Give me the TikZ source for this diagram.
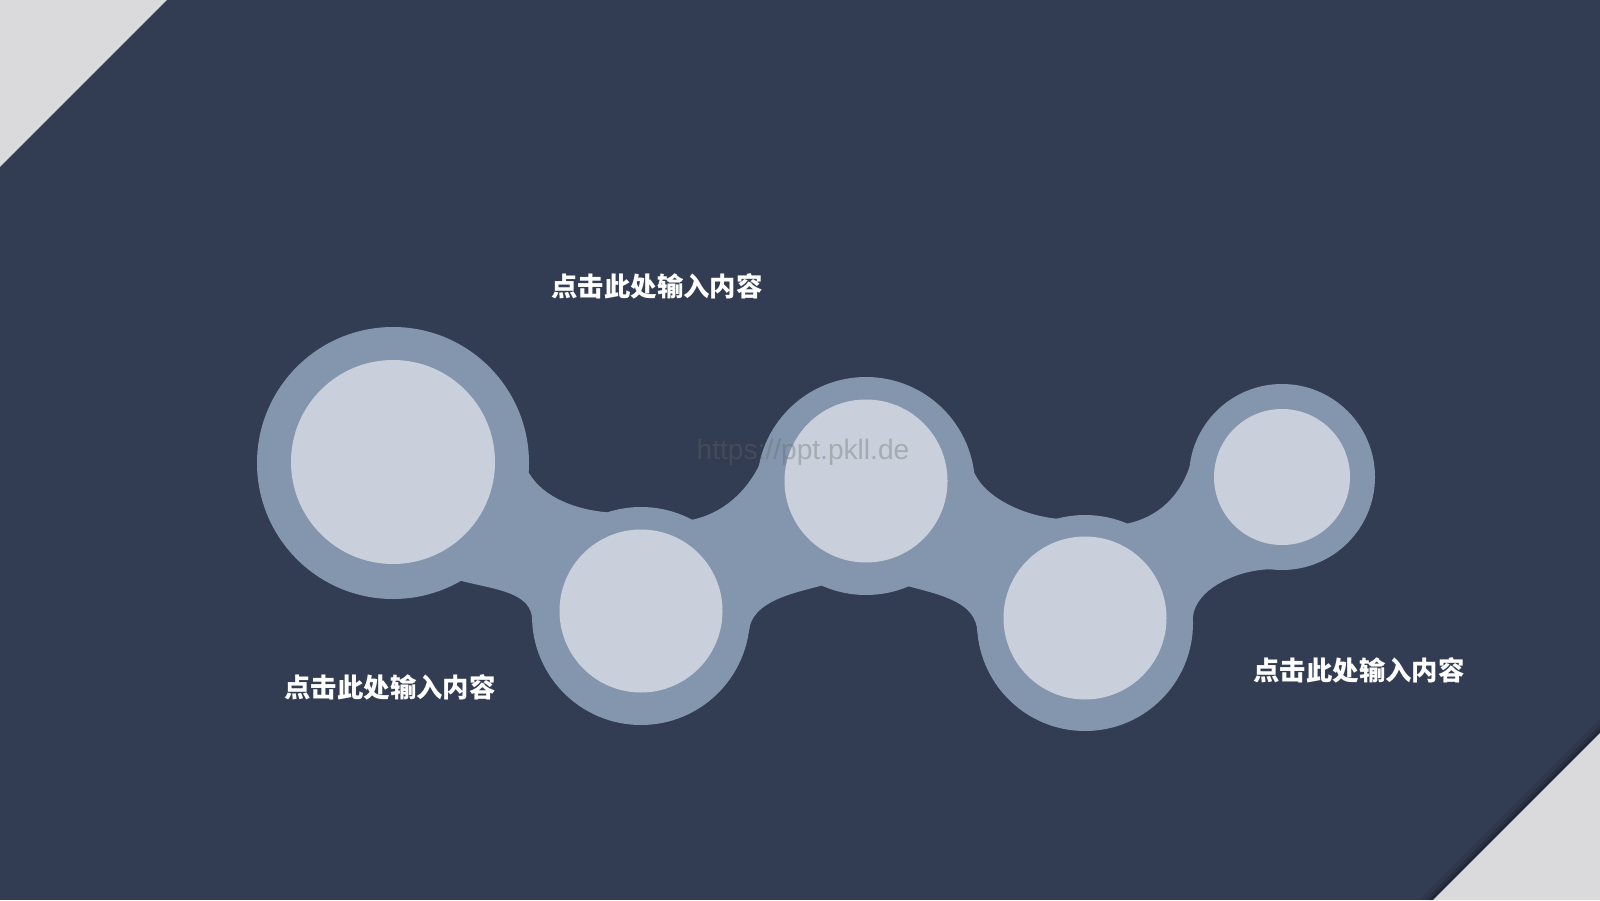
\documentclass[tikz,border=0pt]{standalone}
\usepackage{fontspec}
\newfontfamily\cjk{Noto Sans CJK SC}
\newfontfamily\wmfont{Liberation Sans}
\definecolor{navy}{HTML}{323C52}
\definecolor{ring}{HTML}{8396AE}
\definecolor{disc}{HTML}{C9D0DB}
\definecolor{corner}{HTML}{DADADC}

\begin{document}
\begin{tikzpicture}

        \fill[navy] (0,0) rectangle (16,9);
        \useasboundingbox (0,0) rectangle (16,9);

        % corners
        \fill[corner] (0,9) -- (1.67,9) -- (0,7.33) -- cycle;
        \foreach \d/\o in {0.14/0.07,0.08/0.11,0.04/0.18}
          \fill[black,opacity=\o] (14.33-\d,0) -- (16,1.67+\d) -- (16,1.67) -- (14.33,0) -- cycle;
        \fill[corner] (16,1.67) -- (16,0) -- (14.33,0) -- cycle;

        \begin{scope}[every node/.style={circle,fill=ring,inner sep=0pt,outer sep=0pt}]
          \node[minimum size=2.72cm] (o1) at (3.93,4.37)  {};
          \node[minimum size=2.18cm] (o2) at (6.41,2.84)  {};
          \node[minimum size=2.18cm] (o3) at (8.66,4.14)  {};
          \node[minimum size=2.16cm] (o4) at (10.85,2.77) {};
          \node[minimum size=1.86cm] (o5) at (12.82,4.23) {};
        \end{scope}

        \begin{scope}[every path/.style={fill=ring}]
          \path (o1.-4) .. controls +(-60:0.3) and +(175:0.3) .. (o2.108)
            -- (o2.center) -- (o2.-177) .. controls +(88:0.3) and +(-15:0.35) .. (o1.-60)
            -- (o1.center) -- cycle;
          \path (o2.62) .. controls +(12:0.42) and +(-102:0.42) .. (o3.152)
            -- (o3.center) -- (o3.246) .. controls +(195:0.3) and +(85:0.3) .. (o2.-8)
            -- (o2.center) -- cycle;
          \path (o3.7) .. controls +(-65:0.3) and +(175:0.3) .. (o4.105)
            -- (o4.center) -- (o4.185) .. controls +(92:0.3) and +(-15:0.35) .. (o3.-67)
            -- (o3.center) -- cycle;
          \path (o4.67) .. controls +(12:0.4) and +(-98:0.4) .. (o5.160)
            -- (o5.center) -- (o5.-97) .. controls +(180:0.3) and +(85:0.3) .. (o4.3)
            -- (o4.center) -- cycle;
        \end{scope}

        \begin{scope}[every node/.style={circle,fill=disc,inner sep=0pt}]
          \node[minimum size=2.04cm] (1) at (3.93,4.38)  {};
          \node[minimum size=1.63cm] (2) at (6.41,2.89)  {};
          \node[minimum size=1.63cm] (3) at (8.66,4.19)  {};
          \node[minimum size=1.63cm] (4) at (10.85,2.82) {};
          \node[minimum size=1.36cm] (5) at (12.82,4.23) {};
        \end{scope}

        \begin{scope}[every node/.style={text=white,font=\cjk\bfseries\fontsize{7.5}{9}\selectfont}]
          \node (t1) at (6.57,6.14)  {点击此处输入内容};
          \node (t2) at (3.90,2.13)  {点击此处输入内容};
          \node (t3) at (13.59,2.30) {点击此处输入内容};
        \end{scope}

        \node[text=black!60,text opacity=0.35,font=\wmfont\fontsize{8}{9}\selectfont] (wm) at (8.03,4.48) {https://ppt.pkll.de};

      \end{tikzpicture}
\end{document}
